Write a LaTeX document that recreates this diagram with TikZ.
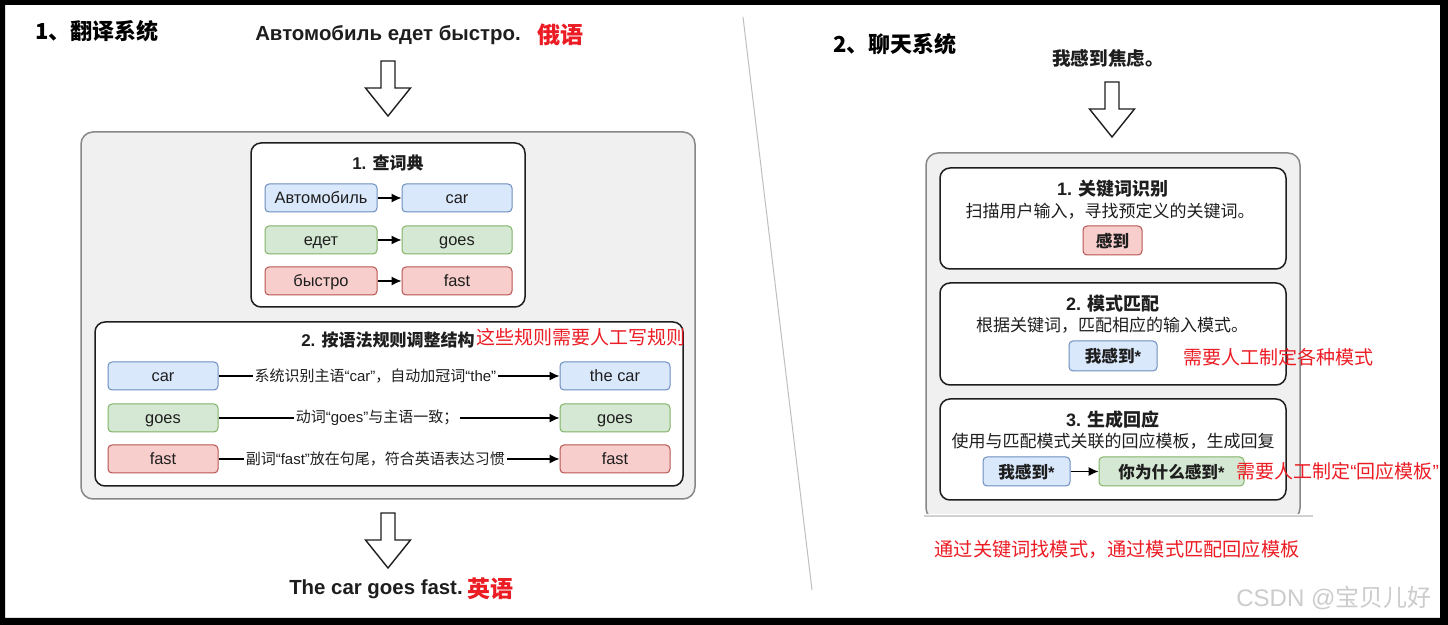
\documentclass[tikz,border=0pt]{standalone}
\usepackage{fontspec}
\setmainfont{Liberation Sans}
\newfontfamily\cjk{Noto Sans CJK SC}
\usetikzlibrary{arrows.meta, positioning}
\definecolor{wblue}{RGB}{218,232,252}
\definecolor{wblueedge}{RGB}{108,142,191}
\definecolor{wgreen}{RGB}{213,232,212}
\definecolor{wgreenedge}{RGB}{130,179,102}
\definecolor{wred}{RGB}{248,206,204}
\definecolor{wrededge}{RGB}{184,84,80}
\definecolor{panelgrey}{RGB}{240,240,240}
\definecolor{paneledge}{RGB}{135,135,135}
\definecolor{notered}{RGB}{236,28,36}
\definecolor{inkdark}{RGB}{30,30,30}
\tikzset{
  headtext/.style={inner sep=0pt, text=black, font=\fontsize{11}{13}\selectfont\bfseries},
  srctext/.style={inner sep=0pt, text=inkdark, font=\fontsize{10.2}{12}\selectfont\bfseries},
  langnote/.style={inner sep=0pt, text=notered, font=\fontsize{11.5}{13}\selectfont\bfseries\cjk},
  rednote/.style={inner sep=0pt, text=notered, font=\fontsize{9.5}{11}\selectfont\cjk},
  panel/.style={rectangle, rounded corners=6pt, draw=paneledge, fill=panelgrey,
    line width=0.75pt},
  stagebox/.style={rectangle, rounded corners=5pt, draw=inkdark, fill=white,
    line width=0.75pt},
  stagetitle/.style={inner sep=0pt, text=inkdark, font=\fontsize{8.5}{10}\selectfont\bfseries},
  stagesub/.style={inner sep=0pt, text=inkdark, font=\fontsize{8.5}{10}\selectfont\cjk},
  word/.style={rectangle, rounded corners=2pt, line width=0.5pt, inner sep=0pt,
    minimum height=14pt, text height=7pt, text depth=1pt, text=inkdark,
    font=\fontsize{8.2}{10}\selectfont},
  wordb/.style={word, draw=wblueedge, fill=wblue},
  wordg/.style={word, draw=wgreenedge, fill=wgreen},
  wordr/.style={word, draw=wrededge, fill=wred},
  pill/.style={minimum height=14.5pt, text height=7.4pt, text depth=0.8pt,
    font=\fontsize{8.3}{10}\selectfont\bfseries},
  wordflow/.style={-{Latex[length=5pt, width=4.6pt]}, draw=black, line width=0.7pt},
  flowlabel/.style={fill=white, inner sep=0.8pt, text=inkdark,
    font=\fontsize{7.5}{9}\selectfont},
  hollowarrow/.pic={
    \draw[line width=0.7pt, draw=inkdark, fill=white, line join=miter]
      (-7,0) -- (7,0) -- (7,27) -- (22.5,27) -- (0,55) -- (-22.5,27) -- (-7,27) -- cycle;
  },
}
\begin{document}
\begin{tikzpicture}[x=0.5pt, y=-0.5pt]
\useasboundingbox (0,0) rectangle (1448,625);
\fill[white] (0,0) rectangle (1448,625);

% translation system
\node[headtext, anchor=west] (trhead) at (35,31) {\cjk 1、翻译系统};
\node[srctext] (src) at (388,35) {Автомобиль едет быстро.};
\node[langnote, right=8pt of src] (srclang) {俄语};
\pic at (388,61) {hollowarrow};

\node[panel, minimum width=307pt, minimum height=183.5pt] (trpanel) at (388,315.5) {};

\node[stagebox, minimum width=137pt, minimum height=82pt] (dict) at (388,225) {};
\node[stagetitle] (dicttitle) at (388,163) {1. {\cjk 查词典}};
\node[wordb, minimum width=56pt] (d1l) at (321,198) {Автомобиль};
\node[wordb, minimum width=55pt] (d1r) at (457,198) {car};
\node[wordg, minimum width=56pt] (d2l) at (321,240) {едет};
\node[wordg, minimum width=55pt] (d2r) at (457,240) {goes};
\node[wordr, minimum width=56pt] (d3l) at (321,281) {быстро};
\node[wordr, minimum width=55pt] (d3r) at (457,281) {fast};
\draw[wordflow] (d1l) -- (d1r);
\draw[wordflow] (d2l) -- (d2r);
\draw[wordflow] (d3l) -- (d3r);

\node[stagebox, minimum width=294pt, minimum height=82pt] (rules) at (389,404) {};
\node[stagetitle] (rulestitle) at (388,340) {2. {\cjk 按语法规则调整结构}};
\node[rednote, anchor=west] (rulesnote) at (476,337) {这些规则需要人工写规则};
\node[wordb, minimum width=55pt] (r1l) at (163,376) {car};
\node[wordb, minimum width=55pt] (r1r) at (615,376) {the car};
\node[wordg, minimum width=55pt] (r2l) at (163,418) {goes};
\node[wordg, minimum width=55pt] (r2r) at (615,418) {goes};
\node[wordr, minimum width=55pt] (r3l) at (163,459) {fast};
\node[wordr, minimum width=55pt] (r3r) at (615,459) {fast};
\draw[wordflow] (r1l) -- node[flowlabel, pos=0.46]
  {{\cjk 系统识别主语}“car”{\cjk ，自动加冠词}“the”} (r1r);
\draw[wordflow] (r2l) -- node[flowlabel, pos=0.465]
  {{\cjk 动词}“goes”{\cjk 与主语一致；}} (r2r);
\draw[wordflow] (r3l) -- node[flowlabel, pos=0.46]
  {{\cjk 副词}“fast”{\cjk 放在句尾，符合英语表达习惯}} (r3r);

\pic at (388,513) {hollowarrow};
\node[srctext] (outen) at (376,589) {The car goes fast.};
\node[langnote, right=2pt of outen] (outlang) {英语};

% divider
\draw[black!25, line width=0.5pt] (743,17) -- (812,590);

% chat system
\node[headtext, anchor=west] (chathead) at (833,44) {\cjk 2、聊天系统};
\node[srctext, font=\fontsize{9.3}{11}\selectfont\bfseries\cjk] (chatin) at (1108,58) {我感到焦虑。};
\pic at (1112,82) {hollowarrow};

\begin{scope}
\clip (900,140) rectangle (1320,514);
\node[panel, minimum width=187pt, minimum height=183.5pt] (chatpanel) at (1113,336.5) {};
\end{scope}
\draw[black!18, line width=0.6pt] (924,516) -- (1313,516);

\node[stagebox, minimum width=173pt, minimum height=50.5pt] (kw) at (1113,218.5) {};
\node[stagetitle, font=\fontsize{9}{11}\selectfont\bfseries] (kwtitle) at (1113,189) {1. {\cjk 关键词识别}};
\node[stagesub] (kwsub) at (1110,211) {扫描用户输入，寻找预定义的关键词。};
\node[wordr, pill, minimum width=29.5pt] (kwword) at (1112.5,240.5) {\cjk 感到};

\node[stagebox, minimum width=173pt, minimum height=51pt] (pat) at (1113,334) {};
\node[stagetitle, font=\fontsize{9}{11}\selectfont\bfseries] (pattitle) at (1113,304) {2. {\cjk 模式匹配}};
\node[stagesub] (patsub) at (1112,325) {根据关键词，匹配相应的输入模式。};
\node[wordb, pill, minimum width=44pt, minimum height=15pt] (patword) at (1113,356) {{\cjk 我感到}*};
\node[rednote, anchor=west] (patnote) at (1183,357) {需要人工制定各种模式};

\node[stagebox, minimum width=173pt, minimum height=50.5pt] (resp) at (1113,449.5) {};
\node[stagetitle, font=\fontsize{9}{11}\selectfont\bfseries] (resptitle) at (1113,420) {3. {\cjk 生成回应}};
\node[stagesub] (respsub) at (1113,441) {使用与匹配模式关联的回应模板，生成回复};
\node[wordb, pill, minimum width=43.5pt] (respin) at (1026.5,471.5) {{\cjk 我感到}*};
\node[wordg, pill, minimum width=72.5pt] (respout) at (1171.5,471.5) {{\cjk 你为什么感到}*};
\draw[wordflow] (respin) -- (respout);
\node[rednote, anchor=west] (respnote) at (1236,471)
  {需要人工制定{\rmfamily“}回应模板{\rmfamily”}};

\node[rednote, font=\fontsize{9.6}{11}\selectfont\cjk] (summary) at (1117,549)
  {通过关键词找模式，通过模式匹配回应模板};
\node[inner sep=0pt, anchor=west, text=black!20, font=\fontsize{12}{14}\selectfont]
  (mark) at (1236,598) {CSDN @{\cjk 宝贝儿好}};

% frame
\fill[black, even odd rule] (0,0) rectangle (1448,625) (5,5) rectangle (1440,618);
\end{tikzpicture}
\end{document}
